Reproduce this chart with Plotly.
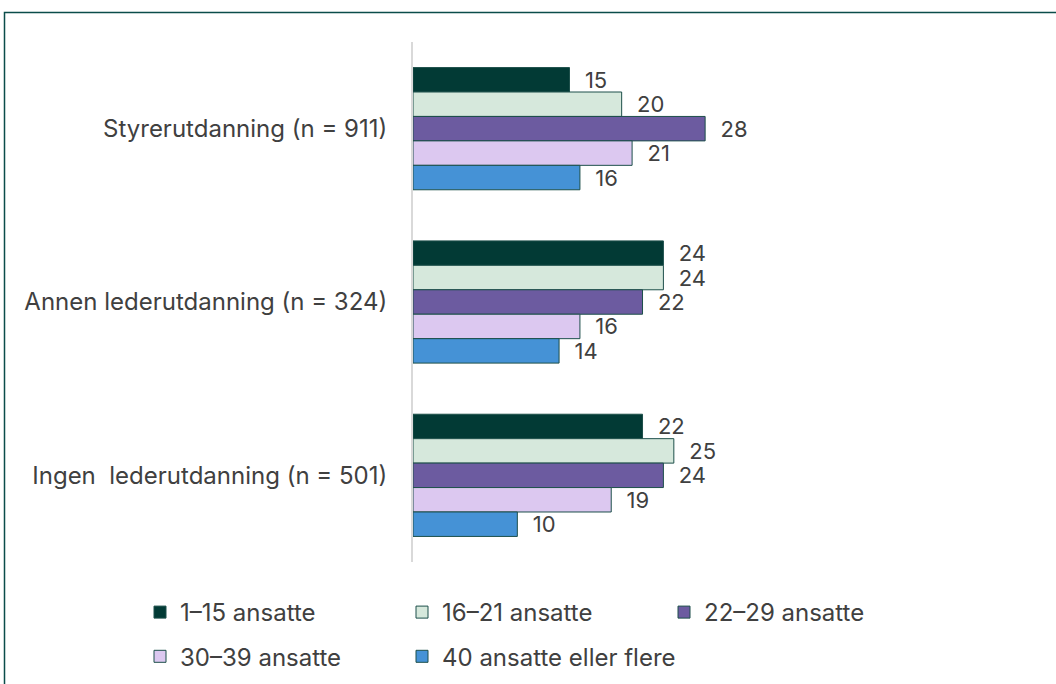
import plotly.graph_objects as go

categories = ["Styrerutdanning (n = 911)", "Annen lederutdanning (n = 324)", "Ingen \u00a0lederutdanning (n = 501)"]
series_names = ["1–15 ansatte", "16–21 ansatte", "22–29 ansatte", "30–39 ansatte", "40 ansatte eller flere"]
v_1_15 = [15, 24, 22]
v_16_21 = [20, 24, 25]
v_22_29 = [28, 22, 24]
v_30_39 = [21, 16, 19]
v_40 = [16, 14, 10]
series_values = [v_1_15, v_16_21, v_22_29, v_30_39, v_40]
colors = ["#023a35", "#d6e8dc", "#6c5ba0", "#dcc8f0", "#4592d6"]
# legend columns: col1 = 1–15 / 30–39, col2 = 16–21 / 40+, col3 = 22–29
legend_ids = ["legend", "legend2", "legend3", "legend", "legend2"]

W, H = 1056, 684
ML, MR, MT, MB = 413, 17, 42, 122
XMAX = 60

fig = go.Figure()
for name, vals, col, lg in zip(series_names, series_values, colors, legend_ids):
    fig.add_trace(go.Bar(
        y=categories, x=vals, name=name, orientation="h",
        marker=dict(color=col, line=dict(color="#1d4f4a", width=1)),
        text=vals, texttemplate="\u00a0\u00a0%{x}", textposition="outside",
        constraintext="none",
        textfont=dict(size=22, color="#404040", family="Inter"),
        cliponaxis=False, legend=lg, legendgroup=name,
    ))

pw = W - ML - MR
ph = H - MT - MB
def px_x(p):
    return (p - ML) / pw
def px_y(p):
    return 1 - (p - MT) / ph

fig.add_shape(type="rect", xref="paper", yref="paper",
              x0=px_x(4.5), x1=px_x(1070), y0=px_y(12.5), y1=px_y(700),
              line=dict(color="#0b4d4a", width=1.5), fillcolor="rgba(0,0,0,0)", layer="above")

legend_common = dict(orientation="v", xanchor="left", yanchor="top",
                     tracegroupgap=10,
                     font=dict(size=24, color="#404040", family="Inter"),
                     traceorder="grouped", bgcolor="rgba(0,0,0,0)")
LEG_TOP = 590

fig.update_layout(
    width=W, height=H,
    margin=dict(l=ML, r=MR, t=MT, b=MB, autoexpand=False),
    paper_bgcolor="white", plot_bgcolor="white",
    barmode="group", bargap=0.295, bargroupgap=0,
    font=dict(family="Inter", size=24, color="#404040"),
    xaxis=dict(range=[0, XMAX], visible=False, showgrid=False, zeroline=False),
    yaxis=dict(autorange="reversed", showline=True, linecolor="#d9d9d9", linewidth=2,
               ticks="", ticklabelstandoff=19, showgrid=False, zeroline=False,
               tickfont=dict(size=24, color="#404040", family="Inter")),
    legend=dict(x=px_x(140), y=px_y(LEG_TOP), **legend_common),
    legend2=dict(x=px_x(402), y=px_y(LEG_TOP), **legend_common),
    legend3=dict(x=px_x(664), y=px_y(LEG_TOP), **legend_common),
    showlegend=True,
)

fig.write_html("out.html", config={"displayModeBar": False},
               post_script="document.body.style.margin='0';")
